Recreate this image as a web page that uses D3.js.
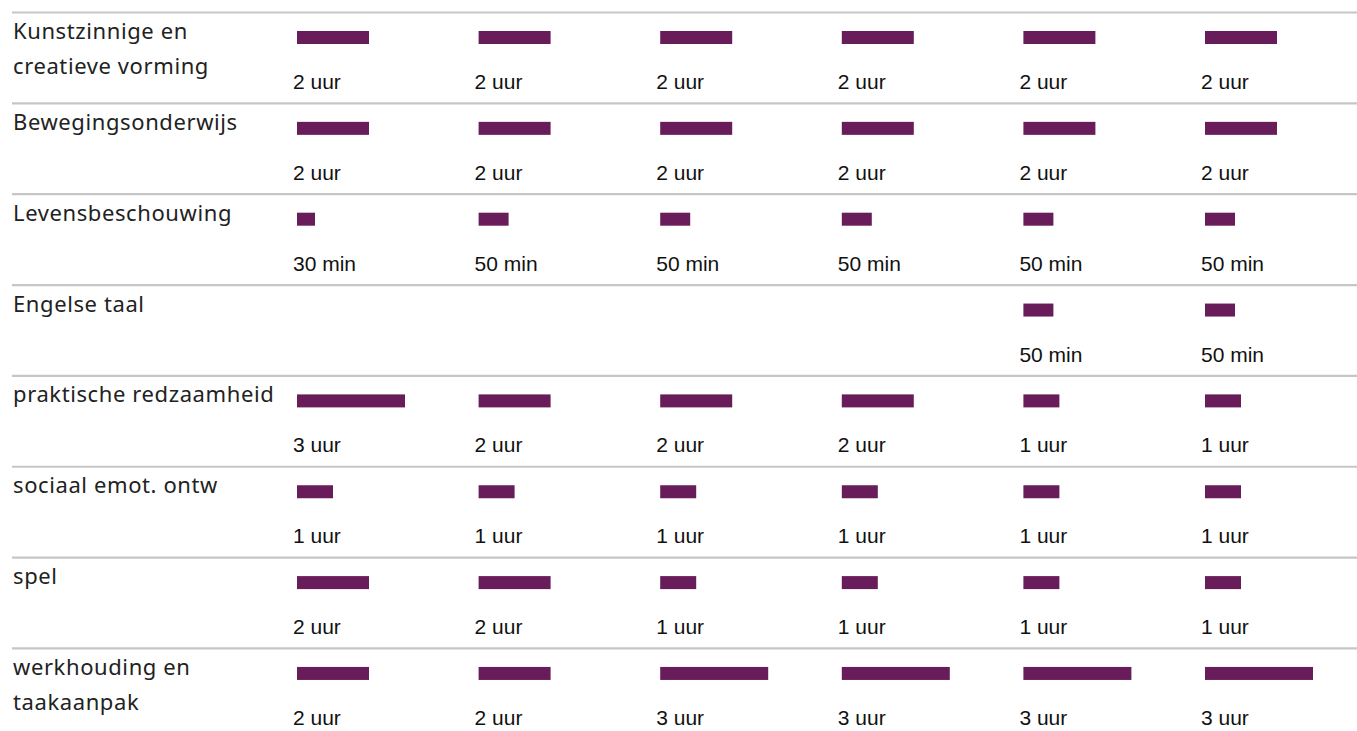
<!DOCTYPE html>
<html>
<head>
<meta charset="utf-8">
<script src="https://cdn.jsdelivr.net/npm/d3@7"></script>
<style>
  html, body { margin: 0; padding: 0; background: #fff; }
  svg { display: block; }
</style>
</head>
<body>
<svg id="chart" width="1357" height="731"></svg>
<script>
// Subjects (each label may wrap over two lines)
const subjects = [
  ["Kunstzinnige en", "creatieve vorming"],
  ["Bewegingsonderwijs"],
  ["Levensbeschouwing"],
  ["Engelse taal"],
  ["praktische redzaamheid"],
  ["sociaal emot. ontw"],
  ["spel"],
  ["werkhouding en", "taakaanpak"]
];

// Six grade columns
const groups = ["groep 3", "groep 4", "groep 5", "groep 6", "groep 7", "groep 8"];

// Weekly time per subject per group, in minutes (null = not taught)
const kunst      = [120, 120, 120, 120, 120, 120];
const beweging   = [120, 120, 120, 120, 120, 120];
const levens     = [30, 50, 50, 50, 50, 50];
const engels     = [null, null, null, null, 50, 50];
const redzaam    = [180, 120, 120, 120, 60, 60];
const sociaal    = [60, 60, 60, 60, 60, 60];
const spel       = [120, 120, 60, 60, 60, 60];
const werkhoud   = [120, 120, 180, 180, 180, 180];

const values = [kunst, beweging, levens, engels, redzaam, sociaal, spel, werkhoud];

const fmt = m => (m % 60 === 0 ? (m / 60) + " uur" : m + " min");

const svg = d3.select("#chart");

const rowStep = 90.85;
const y = d3.scaleBand()
  .domain(d3.range(subjects.length))
  .range([12, 12 + rowStep * subjects.length])
  .paddingInner(0).paddingOuter(0);

const x = d3.scaleBand()
  .domain(groups)
  .range([297, 297 + 181.6 * groups.length])
  .padding(0);

const len = d3.scaleLinear().domain([0, 180]).range([0, 108]);

const barColor = "#681d5a";
const barH = 13;

// separator lines
svg.append("g")
  .selectAll("line")
  .data(d3.range(subjects.length))
  .join("line")
  .attr("x1", 12)
  .attr("x2", 1357)
  .attr("y1", i => y(i) + 0.5)
  .attr("y2", i => y(i) + 0.5)
  .attr("stroke", "#c6c6c6")
  .attr("stroke-width", 2.2);

const rows = svg.append("g")
  .selectAll("g.row")
  .data(subjects.map((s, i) => ({ label: s, vals: values[i], i })))
  .join("g")
  .attr("class", "row")
  .attr("transform", d => `translate(0,${y(d.i)})`);

// subject labels
rows.append("text")
  .attr("x", 13)
  .attr("font-family", "'Noto Sans', 'Open Sans', sans-serif")
  .attr("font-size", 22)
  .attr("letter-spacing", 0.6)
  .attr("fill", "#222")
  .selectAll("tspan")
  .data(d => d.label)
  .join("tspan")
  .attr("x", 13)
  .attr("y", (t, k) => 27 + k * 35)
  .text(t => t);

// bars and value labels
const cells = rows.selectAll("g.cell")
  .data(d => d.vals.map((v, k) => ({ v, g: groups[k] })).filter(c => c.v != null))
  .join("g")
  .attr("class", "cell")
  .attr("transform", c => `translate(${x(c.g)},0)`);

cells.append("rect")
  .attr("x", 0)
  .attr("y", 19)
  .attr("width", c => len(c.v))
  .attr("height", barH)
  .attr("fill", barColor);

cells.append("text")
  .attr("x", -4)
  .attr("y", 77)
  .attr("font-family", "'Liberation Sans', Arial, sans-serif")
  .attr("font-size", 21)
  .attr("fill", "#111")
  .text(c => fmt(c.v));
</script>
</body>
</html>
